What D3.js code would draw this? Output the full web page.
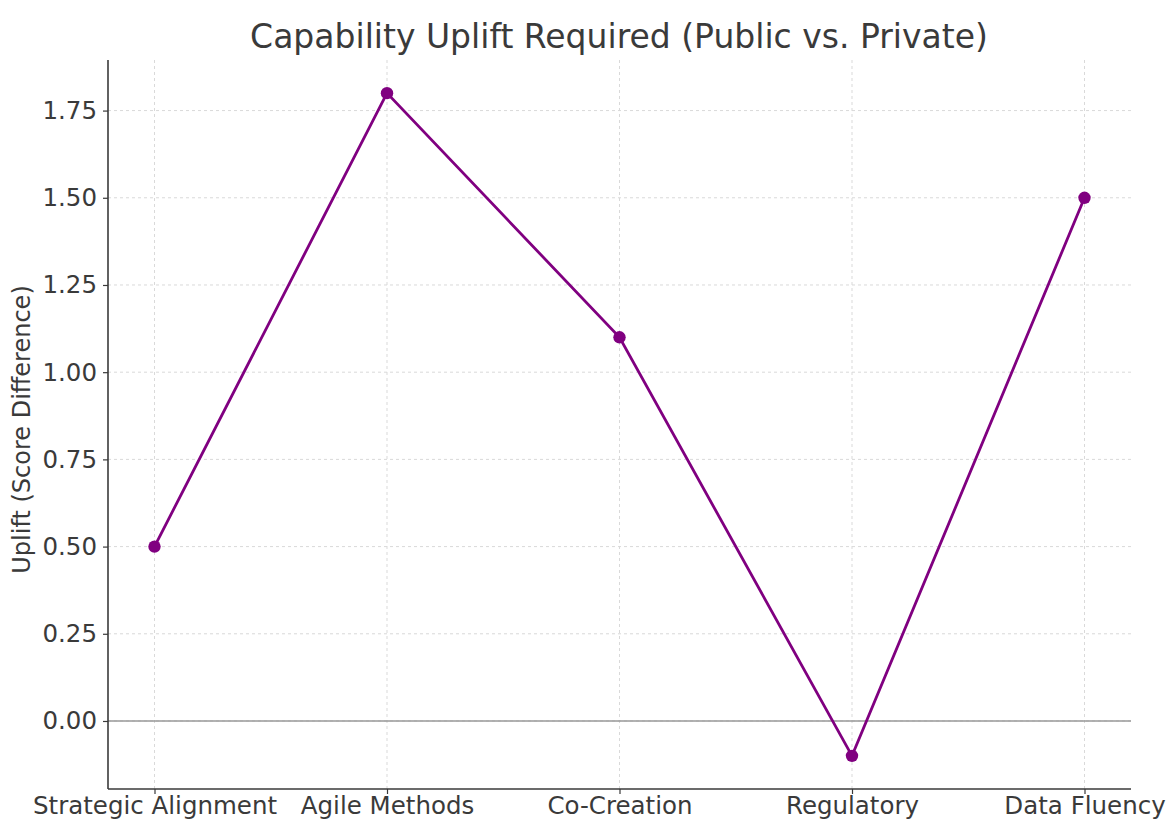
<!DOCTYPE html>
<html>
<head>
<meta charset="utf-8">
<script src="https://cdn.jsdelivr.net/npm/d3@7"></script>
<style>
  html, body { margin: 0; padding: 0; background: #fff; }
  svg { display: block; font-family: 'DejaVu Sans', sans-serif; }
</style>
</head>
<body>
<svg id="chart" width="1169" height="819"></svg>
<script>
// chart data
const categories = ['Strategic Alignment', 'Agile Methods', 'Co-Creation', 'Regulatory', 'Data Fluency'];
const uplift = [0.5, 1.8, 1.1, -0.1, 1.5];
const yTicks = [0, 0.25, 0.5, 0.75, 1.0, 1.25, 1.5, 1.75];

const width = 1169;
const height = 819;
const marginTop = 60;
const marginRight = 38;
const marginBottom = 30;
const marginLeft = 108;

const textColor = '#3a3a3a';
const lineColor = '#800080';

const svg = d3.select('#chart');

// x is a point axis with matplotlib-style padding of 0.2 category
const x = d3.scaleLinear()
  .domain([-0.2, categories.length - 1 + 0.2])
  .range([marginLeft, width - marginRight]);

const y = d3.scaleLinear()
  .domain([-0.195, 1.895])
  .range([height - marginBottom, marginTop]);

// grid lines
svg.append('g')
  .selectAll('line')
  .data(categories.map((d, i) => i))
  .join('line')
  .attr('x1', d => x(d)).attr('x2', d => x(d))
  .attr('y1', marginTop).attr('y2', height - marginBottom)
  .attr('stroke', '#d9d9d9')
  .attr('stroke-width', 1)
  .attr('stroke-dasharray', '3,3');

svg.append('g')
  .selectAll('line')
  .data(yTicks)
  .join('line')
  .attr('x1', marginLeft).attr('x2', width - marginRight)
  .attr('y1', d => y(d)).attr('y2', d => y(d))
  .attr('stroke', '#d9d9d9')
  .attr('stroke-width', 1)
  .attr('stroke-dasharray', '3,3');

// zero reference line
svg.append('line')
  .attr('x1', marginLeft).attr('x2', width - marginRight)
  .attr('y1', y(0)).attr('y2', y(0))
  .attr('stroke', '#999')
  .attr('stroke-width', 1.5);

// axes
const xAxis = svg.append('g')
  .attr('transform', `translate(0,${height - marginBottom})`)
  .call(d3.axisBottom(x)
    .tickValues(categories.map((d, i) => i))
    .tickFormat(i => categories[i])
    .tickSize(5)
    .tickPadding(2));

const yAxis = svg.append('g')
  .attr('transform', `translate(${marginLeft},0)`)
  .call(d3.axisLeft(y)
    .tickValues(yTicks)
    .tickFormat(d3.format('.2f'))
    .tickSize(5)
    .tickPadding(6));

[xAxis, yAxis].forEach(g => {
  g.select('.domain').remove();
  g.selectAll('.tick line').attr('stroke', textColor).attr('stroke-width', 1.2);
  g.selectAll('.tick text')
    .attr('fill', textColor)
    .style('font-size', '24.5px')
    .style('font-family', "'DejaVu Sans', sans-serif");
});
xAxis.selectAll('.tick text').attr('dy', '0.75em');

// spines: left and bottom only
svg.append('line')
  .attr('x1', marginLeft).attr('x2', marginLeft)
  .attr('y1', marginTop).attr('y2', height - marginBottom)
  .attr('stroke', textColor).attr('stroke-width', 1.6);
svg.append('line')
  .attr('x1', marginLeft).attr('x2', width - marginRight)
  .attr('y1', height - marginBottom).attr('y2', height - marginBottom)
  .attr('stroke', textColor).attr('stroke-width', 1.6);

// data line and markers
const line = d3.line()
  .x((d, i) => x(i))
  .y(d => y(d));

svg.append('path')
  .datum(uplift)
  .attr('fill', 'none')
  .attr('stroke', lineColor)
  .attr('stroke-width', 2.8)
  .attr('d', line);

svg.append('g')
  .selectAll('circle')
  .data(uplift)
  .join('circle')
  .attr('cx', (d, i) => x(i))
  .attr('cy', d => y(d))
  .attr('r', 6.2)
  .attr('fill', lineColor);

// title
svg.append('text')
  .attr('x', 619)
  .attr('y', 48)
  .attr('text-anchor', 'middle')
  .attr('fill', textColor)
  .style('font-size', '33px')
  .text('Capability Uplift Required (Public vs. Private)');

// y axis label
svg.append('text')
  .attr('transform', `translate(30,${(marginTop + height - marginBottom) / 2 + 5}) rotate(-90)`)
  .attr('text-anchor', 'middle')
  .attr('fill', textColor)
  .style('font-size', '24px')
  .text('Uplift (Score Difference)');
</script>
</body>
</html>
